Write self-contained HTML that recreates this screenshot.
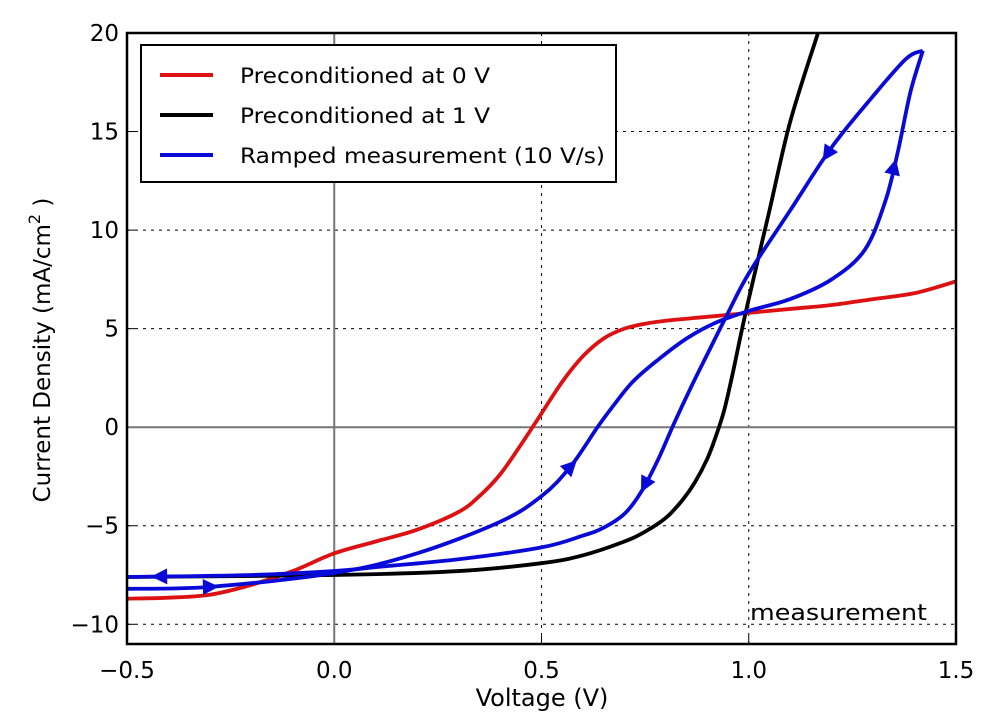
<!DOCTYPE html>
<html><head><meta charset="utf-8"><style>
body{margin:0;background:#fff}
svg text{font-family:"DejaVu Sans","Liberation Sans",sans-serif;fill:#000}
</style></head><body>
<svg id="c" width="1000" height="721" xmlns="http://www.w3.org/2000/svg"></svg>
<script>
const xTicks=[-0.5,0.0,0.5,1.0,1.5];
const yTicks=[-10,-5,0,5,10,15,20];
const redX=[-0.5,-0.4,-0.3,-0.2,-0.1,0,0.1,0.2,0.3,0.35,0.4,0.45,0.5,0.55,0.6,0.65,0.7,0.75,0.8,0.9,1.0,1.1,1.2,1.3,1.4,1.5];
const redY=[-8.7,-8.65,-8.5,-8.0,-7.3,-6.4,-5.8,-5.2,-4.3,-3.5,-2.4,-0.9,0.7,2.3,3.6,4.5,5.0,5.25,5.4,5.6,5.8,6.0,6.2,6.5,6.8,7.4];
const blackX=[-0.5,0,0.3,0.5,0.6,0.7,0.75,0.8,0.84,0.87,0.9,0.92,0.94,0.96,0.98,1.0,1.05,1.1,1.167];
const blackY=[-7.6,-7.5,-7.3,-6.9,-6.5,-5.8,-5.3,-4.6,-3.7,-2.8,-1.6,-0.5,0.8,2.6,4.6,6.5,11,15.5,20];
const fwdX=[-0.5,-0.3,0,0.2,0.4,0.5,0.57,0.635,0.67,0.72,0.78,0.85,0.92,1.0,1.1,1.2,1.28,1.33,1.36,1.39,1.42];
const fwdY=[-8.2,-8.1,-7.4,-6.4,-4.8,-3.5,-2,0,1.0,2.3,3.4,4.5,5.3,5.9,6.5,7.5,9,11.5,14,17,19.1];
const revX=[1.42,1.38,1.3,1.2,1.1,1.0,0.95,0.9,0.86,0.82,0.78,0.74,0.7,0.65,0.6,0.5,0.3,0.1,0,-0.2,-0.5];
const revY=[19.1,18.7,16.8,14.2,11,7.8,5.8,3.7,2.0,0.2,-1.7,-3.3,-4.4,-5.1,-5.5,-6.1,-6.7,-7.1,-7.3,-7.5,-7.6];
const fwdArrowX=[-0.3,0.57,1.35];
const revArrowX=[1.19,0.75,-0.42];
const L=127,R=956,T=33,B=644;
const sx=v=>L+(v+0.5)/2*(R-L);
const sy=v=>T+(20-v)/31*(B-T);
const svg=document.getElementById('c');const NS='http://www.w3.org/2000/svg';
function mk(t,a,p){const e=document.createElementNS(NS,t);for(const k in a)e.setAttribute(k,a[k]);(p||svg).appendChild(e);return e;}
const clip=mk('clipPath',{id:'pc'});mk('rect',{x:L,y:T,width:R-L,height:B-T},clip);
xTicks.forEach(v=>{const g=mk('line',{x1:sx(v),x2:sx(v),y1:T,y2:B,stroke:'#000','stroke-width':1,'stroke-dasharray':'3,5'});

const t=mk('text',{x:sx(v),y:B+34,'text-anchor':'middle','font-size':23});t.textContent=(v<0?'\u2212':'')+Math.abs(v).toFixed(1);

mk('line',{x1:sx(v),x2:sx(v),y1:B,y2:B-8,stroke:'#000','stroke-width':1});});
yTicks.forEach(v=>{const g=mk('line',{x1:L,x2:R,y1:sy(v),y2:sy(v),stroke:'#000','stroke-width':1,'stroke-dasharray':'3,5'});

const t=mk('text',{x:L-8,y:sy(v)+8,'text-anchor':'end','font-size':23});t.textContent=(v<0?'\u2212':'')+Math.abs(v);

mk('line',{x1:L,x2:L+8,y1:sy(v),y2:sy(v),stroke:'#000','stroke-width':1});});
mk('line',{x1:sx(0),x2:sx(0),y1:T,y2:B,stroke:'#777','stroke-width':2});
mk('line',{x1:L,x2:R,y1:sy(0),y2:sy(0),stroke:'#777','stroke-width':2});
function path(xs,ys){const p=xs.map((x,i)=>[sx(x),sy(ys[i])]);let d='M'+p[0][0]+','+p[0][1];
for(let i=0;i<p.length-1;i++){const p0=p[i-1]||p[i],p1=p[i],p2=p[i+1],p3=p[i+2]||p2;
d+=` C${p1[0]+(p2[0]-p0[0])/6},${p1[1]+(p2[1]-p0[1])/6} ${p2[0]-(p3[0]-p1[0])/6},${p2[1]-(p3[1]-p1[1])/6} ${p2[0]},${p2[1]}`;}return d;}
function series(xs,ys,col,name){const e=mk('path',{d:path(xs,ys),fill:'none',stroke:col,'stroke-width':3.8,'clip-path':'url(#pc)','stroke-linejoin':'round'});
}
series(redX,redY,'#dd1111','red-curve-0v');
series(blackX,blackY,'#000','black-curve-1v');
series(fwdX,fwdY,'#0a0ad8','blue-forward-sweep');
series(revX,revY,'#0a0ad8','blue-reverse-sweep');
function arrows(xs,ys,ax){ax.forEach(a=>{let i=0;for(let k=0;k<xs.length-1;k++){if((xs[k]-a)*(xs[k+1]-a)<=0){i=k;break;}}
const t=(a-xs[i])/((xs[i+1]-xs[i])||1);const px=sx(a),py=sy(ys[i]+t*(ys[i+1]-ys[i]));
const dx=sx(xs[i+1])-sx(xs[i]),dy=sy(ys[i+1])-sy(ys[i]);const ang=Math.atan2(dy,dx)*180/Math.PI;
const e=mk('polygon',{points:'9,0 -7,-8 -7,8',fill:'#0a0ad8',transform:`translate(${px},${py}) rotate(${ang})`});
});}
arrows(fwdX,fwdY,fwdArrowX);arrows(revX,revY,revArrowX);
const f=mk('rect',{x:L,y:T,width:R-L,height:B-T,fill:'none',stroke:'#000','stroke-width':2.5});

const lg=mk('g',{});
mk('rect',{x:141,y:45,width:475,height:137,fill:'#fff',stroke:'#000','stroke-width':2},lg);
[['Preconditioned at 0 V','#dd1111',75],['Preconditioned at 1 V','#000',115],['Ramped measurement (10 V/s)','#0a0ad8',155]].forEach(([s,c,y])=>{
const g=mk('g',{},lg);
mk('line',{x1:160,x2:213,y1:y,y2:y,stroke:c,'stroke-width':4},g);
const t=mk('text',{x:240,y:y+8,'font-size':21,textLength:(s.length>22?365:250),lengthAdjust:'spacingAndGlyphs'},g);t.textContent=s;});
const m=mk('text',{x:750,y:620,'font-size':22,textLength:177,lengthAdjust:'spacingAndGlyphs'});m.textContent='measurement';
const xl=mk('text',{x:542,y:706,'text-anchor':'middle','font-size':24});xl.textContent='Voltage (V)';
const yl=mk('text',{transform:'translate(50,350) rotate(-90)','text-anchor':'middle','font-size':23});yl.innerHTML='Current Density (mA/cm<tspan dy="-10" font-size="16">2</tspan><tspan dy="10"> )</tspan>';

</script>
</body></html>
